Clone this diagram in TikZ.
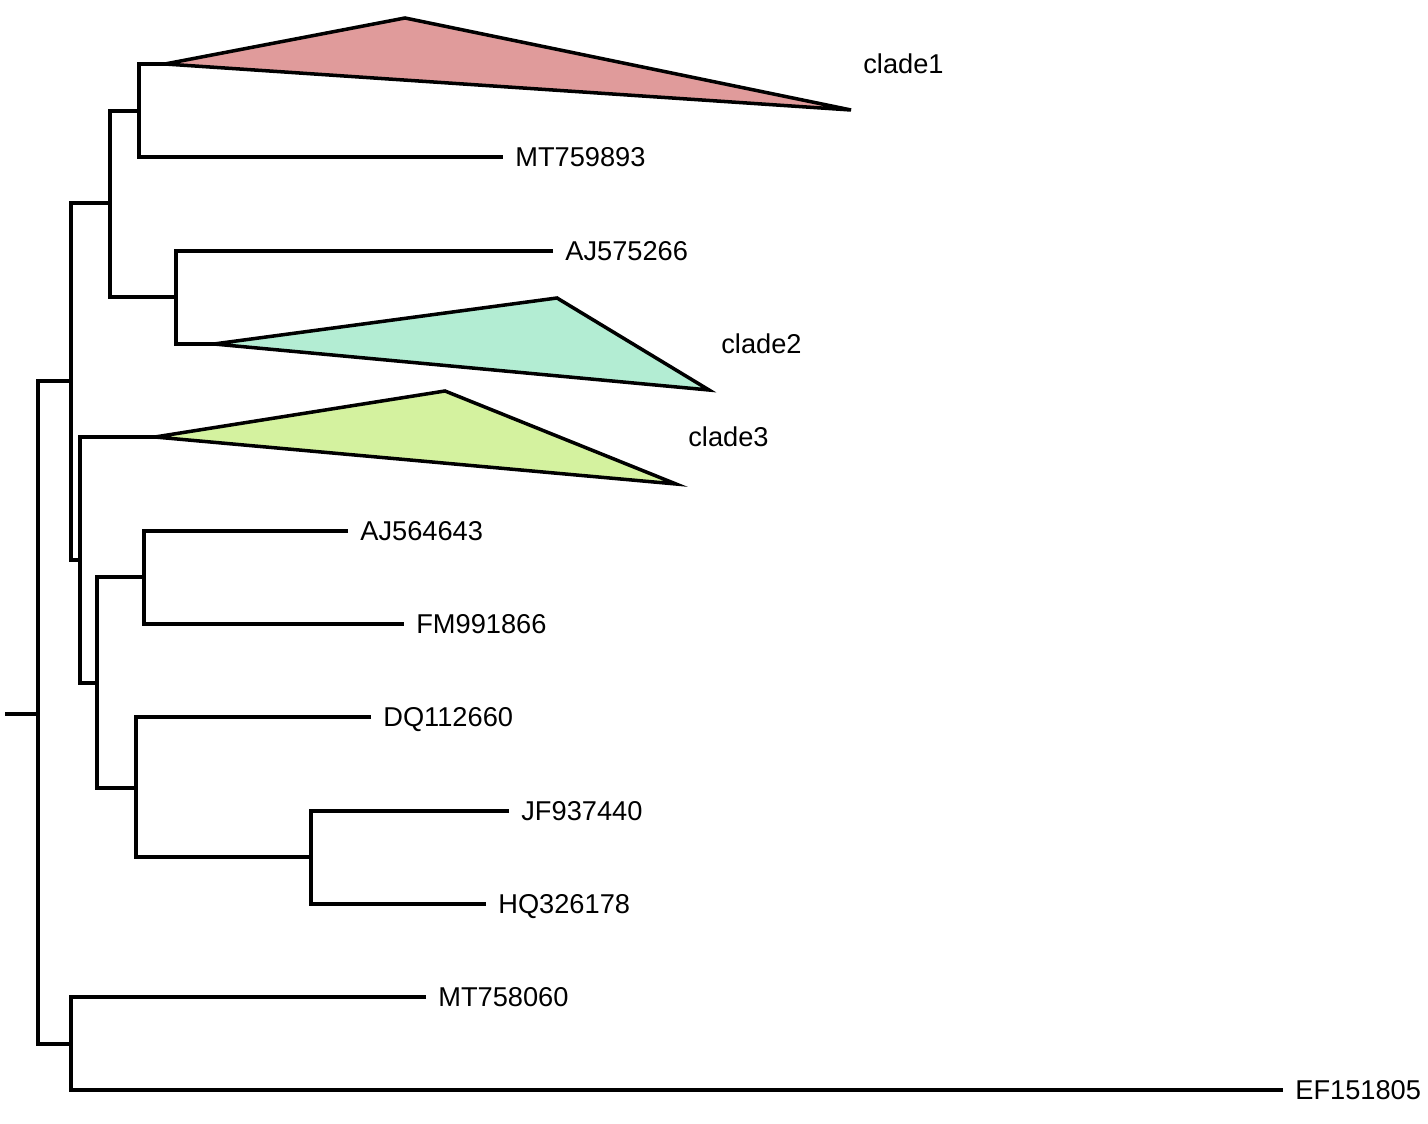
\documentclass[tikz,border=0pt]{standalone}
\usepackage{fontspec}
\setmainfont{Liberation Sans}
\definecolor{cladeone}{HTML}{E09B9B}
\definecolor{cladetwo}{HTML}{B3EDD3}
\definecolor{cladethree}{HTML}{D4F29F}

\begin{document}
\begin{tikzpicture}[x=0.02cm,y=-0.02cm,
		branch/.style={draw=black,line width=2pt},
		leaf/.style={anchor=west,inner sep=0pt,inner xsep=0.24cm,text height=11pt,text depth=0pt,font=\fontsize{15.5}{18}\selectfont},
		clade/.style={draw=black,line width=2pt,line join=miter}]
		\useasboundingbox (0,0) rectangle (1428,1124);
		% internal nodes
		\coordinate (root) at (5,714);
		\coordinate (n0) at (38,714);
		\coordinate (nA) at (71,381);
		\coordinate (nB) at (110,203);
		\coordinate (nC) at (139,111);
		\coordinate (nD) at (176,297);
		\coordinate (nE) at (80,560);
		\coordinate (nF) at (97,683);
		\coordinate (nG) at (144,577);
		\coordinate (nH) at (136,788);
		\coordinate (nI) at (311,857);
		\coordinate (nO) at (71,1044);
		% collapsed clades
		\coordinate (c1) at (165,64);
		\coordinate (c2) at (214,344);
		\coordinate (c3) at (155,437);
		\filldraw[clade,fill=cladeone] (c1)--(405,18)--(851,110)--cycle;
		\filldraw[clade,fill=cladetwo] (c2)--(557,298)--(709,390)--cycle;
		\filldraw[clade,fill=cladethree] (c3)--(445,391)--(676,484)--cycle;
		\node[leaf] (clade1) at (851,64) {clade1};
		\node[leaf] (clade2) at (709,344) {clade2};
		\node[leaf] (clade3) at (676,437) {clade3};
		% tips
		\node[leaf] (mt759893) at (503,157) {MT759893};
		\node[leaf] (aj575266) at (553,251) {AJ575266};
		\node[leaf] (aj564643) at (348,531) {AJ564643};
		\node[leaf] (fm991866) at (404,624) {FM991866};
		\node[leaf] (dq112660) at (371,717) {DQ112660};
		\node[leaf] (jf937440) at (509,811) {JF937440};
		\node[leaf] (hq326178) at (486,904) {HQ326178};
		\node[leaf] (mt758060) at (426,997) {MT758060};
		\node[leaf] (ef151805) at (1283,1090) {EF151805};
		% branches
		\draw[branch] (root) -- (n0);
		\draw[branch] (nA) -| (n0) |- (nO);
		\draw[branch] (nB) -| (nA) |- (nE);
		\draw[branch] (nC) -| (nB) |- (nD);
		\draw[branch] (c1) -| (nC) |- (mt759893.west);
		\draw[branch] (aj575266.west) -| (nD) |- (c2);
		\draw[branch] (c3) -| (nE) |- (nF);
		\draw[branch] (nG) -| (nF) |- (nH);
		\draw[branch] (aj564643.west) -| (nG) |- (fm991866.west);
		\draw[branch] (dq112660.west) -| (nH) |- (nI);
		\draw[branch] (jf937440.west) -| (nI) |- (hq326178.west);
		\draw[branch] (mt758060.west) -| (nO) |- (ef151805.west);
\end{tikzpicture}
\end{document}
